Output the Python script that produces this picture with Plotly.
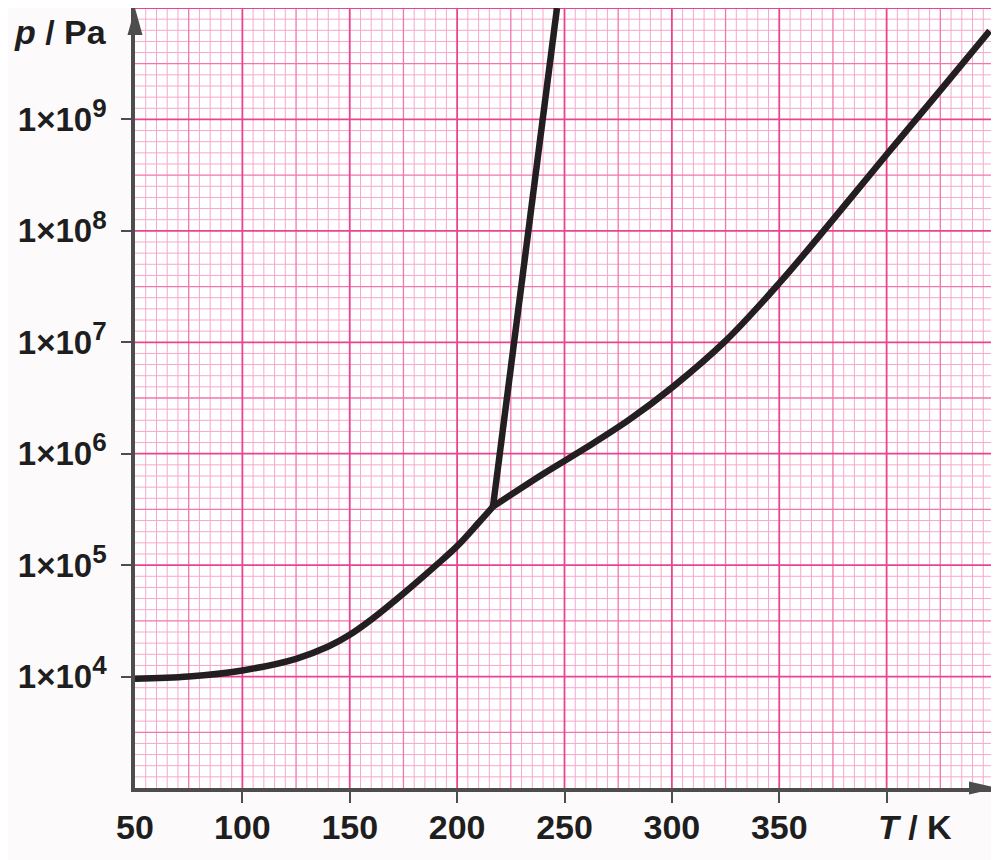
import numpy as np
import plotly.graph_objects as go

# sublimation curve (solid - gas)
sub_T = [50, 75, 100, 125, 140, 150, 160, 175, 190, 200, 210, 216.7]
sub_p = [9.55e3, 1.0e4, 1.135e4, 1.445e4, 1.86e4, 2.37e4, 3.24e4, 5.56e4, 9.89e4, 1.48e5, 2.40e5, 3.35e5]

# vaporization curve (liquid - gas)
vap_T = [216.7, 240, 260, 280, 300, 325, 350, 375, 400, 425, 448]
vap_p = [3.35e5, 6.58e5, 1.13e6, 2.01e6, 3.92e6, 1.03e7, 3.39e7, 1.26e8, 4.84e8, 1.82e9, 6.24e9]

# melting curve (solid - liquid)
melt_T = [216.7, 231.6, 246.5]
melt_p = [3.35e5, 5.9e7, 1.0e10]

x_ticks = [50, 100, 150, 200, 250, 300, 350, 400]
x_labels = ["50", "100", "150", "200", "250", "300", "350", ""]
y_exps = [4, 5, 6, 7, 8, 9]

FONT = "Liberation Sans, Arial, sans-serif"
INK = "#1e1e1e"
AXIS = "#4d4d4d"


def grid_trace(xs, ys, color, width):
    lx, ly = [], []
    for v in xs:
        lx += [v, v, None]
        ly += [1e3, 1e10, None]
    for v in ys:
        lx += [50, 450, None]
        ly += [v, v, None]
    return go.Scatter(x=lx, y=ly, mode="lines", line=dict(color=color, width=width),
                      hoverinfo="skip", showlegend=False)


# graph paper
t_all = np.arange(55, 451, 5)
gx_minor = [t for t in t_all if t % 25 != 0]
gx_mid = [t for t in t_all if t % 25 == 0 and t % 50 != 0]
gx_major = [t for t in t_all if t % 50 == 0]
e_all = np.round(np.arange(3.1, 10.01, 0.1), 1)
gy_minor = [10 ** e for e in e_all if abs(e * 2 - round(e * 2)) > 1e-6]
gy_mid = [10 ** e for e in e_all if abs(e * 2 - round(e * 2)) < 1e-6 and abs(e - round(e)) > 1e-6]
gy_major = [10 ** e for e in e_all if abs(e - round(e)) < 1e-6]

fig = go.Figure()
fig.add_trace(grid_trace(gx_minor, gy_minor, "rgb(245,168,204)", 1))
fig.add_trace(grid_trace(gx_mid, gy_mid, "rgb(240,118,174)", 1.3))
fig.add_trace(grid_trace(gx_major, gy_major, "rgb(233,68,143)", 1.8))

curve = dict(color="#231f20", width=6.5)
fig.add_trace(go.Scatter(x=sub_T, y=sub_p, mode="lines", line=dict(curve, shape="spline", smoothing=1),
                         hoverinfo="skip", showlegend=False))
fig.add_trace(go.Scatter(x=vap_T, y=vap_p, mode="lines", line=dict(curve, shape="spline", smoothing=1),
                         hoverinfo="skip", showlegend=False))
fig.add_trace(go.Scatter(x=melt_T, y=melt_p, mode="lines", line=curve,
                         hoverinfo="skip", showlegend=False))

# the page body adds an 8 px margin, so the figure is sized to fit inside it
fig.update_layout(
    width=991, height=852,
    margin=dict(l=127, r=5, t=0, b=72, autoexpand=False),
    paper_bgcolor="#fdfafb",
    plot_bgcolor="white",
    showlegend=False,
    xaxis=dict(
        range=[50, 450], showgrid=False, zeroline=False, automargin=False,
        showline=True, linecolor=AXIS, linewidth=3.5,
        tickmode="array", tickvals=x_ticks, ticktext=x_labels, ticks="",
        ticklabelstandoff=6,
        tickfont=dict(family=FONT, size=34, color=INK, weight="bold"),
        minor=dict(tickmode="array", tickvals=x_ticks[1:], ticks="outside",
                   ticklen=11, tickwidth=2, tickcolor=AXIS, showgrid=False),
    ),
    yaxis=dict(
        type="log", range=[3, 10], showgrid=False, zeroline=False, automargin=False,
        showline=True, linecolor=AXIS, linewidth=3.5,
        tickmode="array", tickvals=[10 ** e for e in y_exps],
        ticktext=['1×10<sup><span style="font-size:26px">%d</span></sup>' % e for e in y_exps],
        ticks="outside", ticklen=10, tickwidth=2, tickcolor=AXIS,
        ticklabelstandoff=8,
        tickfont=dict(family=FONT, size=33, color=INK, weight="bold"),
    ),
    shapes=[
        dict(type="path", xref="paper", yref="paper", xsizemode="pixel", ysizemode="pixel",
             xanchor=1, yanchor=0, path="M4,0 L-25,6.5 L-25,-6.5 Z",
             fillcolor=AXIS, line=dict(width=0)),
        dict(type="path", xref="paper", yref="paper", xsizemode="pixel", ysizemode="pixel",
             xanchor=0, yanchor=1, path="M0,0 L-7.5,-27 L7.5,-27 Z",
             fillcolor=AXIS, line=dict(width=0)),
    ],
    annotations=[
        dict(text="<i>p</i> / Pa", xref="paper", yref="paper", x=-0.030, y=0.969,
             xanchor="right", yanchor="middle", showarrow=False,
             font=dict(family=FONT, size=34, color=INK, weight="bold")),
        dict(text="<i>T</i> / K", xref="x", yref="paper", x=395, y=-0.05,
             xanchor="left", yanchor="middle", showarrow=False,
             font=dict(family=FONT, size=34, color=INK, weight="bold")),
    ],
)

fig.write_html("out.html")
